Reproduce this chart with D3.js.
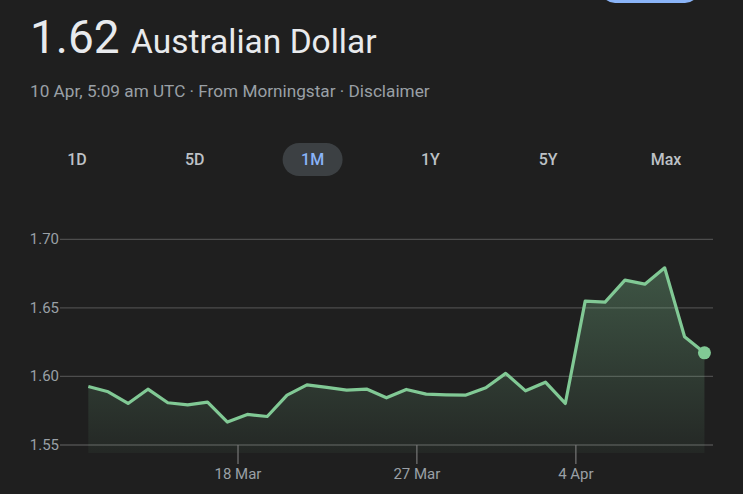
<!DOCTYPE html>
<html>
<head>
<meta charset="utf-8">
<script src="https://cdn.jsdelivr.net/npm/d3@7"></script>
<style>
  html, body { margin: 0; padding: 0; background: #1f1f1f; }
  #chart { width: 743px; height: 494px; }
  text { font-family: Roboto, "Noto Sans", sans-serif; }
</style>
</head>
<body>
<div id="chart"></div>
<script>
// ---------- Data ----------
const startDate = new Date(2025, 2, 10, 11, 15);
const rates = [
  1.5927, 1.5888, 1.5803, 1.5907, 1.5808, 1.5793, 1.5813, 1.5667,
  1.5723, 1.5708, 1.5864, 1.5939, 1.5920, 1.5900, 1.5908, 1.5844,
  1.5905, 1.5871, 1.5866, 1.5864, 1.5917, 1.6022, 1.5895, 1.5958,
  1.5803, 1.6549, 1.6542, 1.6702, 1.6673, 1.6792, 1.6289, 1.6172
];
const yTickValues = [1.55, 1.60, 1.65, 1.70];
const xTickDates = ["2025-03-18", "2025-03-27", "2025-04-04"];
const ranges = ["1D", "5D", "1M", "1Y", "5Y", "Max"];
const activeRange = "1M";

const points = rates.map((v, i) => ({ date: d3.timeDay.offset(startDate, i), value: v }));

// ---------- Layout ----------
const width = 743, height = 494;
const plot = { left: 79, right: 715, top: 239.3, bottom: 445, gridLeft: 60, gridRight: 713 };

const svg = d3.select("#chart").append("svg")
  .attr("width", width)
  .attr("height", height);

svg.append("rect").attr("width", width).attr("height", height).attr("fill", "#1f1f1f");

// top-right button edge, cut off by the page top
svg.append("rect")
  .attr("x", 601).attr("y", -30)
  .attr("width", 98).attr("height", 33)
  .attr("rx", 14)
  .attr("fill", "#8ab4f8");

// ---------- Header ----------
svg.append("text")
  .attr("x", 30).attr("y", 53)
  .attr("font-size", 46)
  .attr("fill", "#e8eaed")
  .text("1.62");

svg.append("text")
  .attr("x", 131).attr("y", 53)
  .attr("font-size", 33.5)
  .attr("fill", "#e8eaed")
  .text("Australian Dollar");

svg.append("text")
  .attr("x", 30).attr("y", 97)
  .attr("font-size", 17.2)
  .attr("fill", "#9aa0a6")
  .text("10 Apr, 5:09 am UTC · From Morningstar · Disclaimer");

// ---------- Range tabs ----------
const tabX = d3.scalePoint().domain(ranges).range([77, 666]);

svg.append("rect")
  .attr("x", tabX(activeRange) - 30).attr("y", 143)
  .attr("width", 60).attr("height", 33)
  .attr("rx", 16.5)
  .attr("fill", "#3c4043");

svg.selectAll(".tab")
  .data(ranges)
  .enter()
  .append("text")
  .attr("class", "tab")
  .attr("x", d => tabX(d))
  .attr("y", 165)
  .attr("text-anchor", "middle")
  .attr("font-size", 16)
  .attr("font-weight", 500)
  .attr("fill", d => d === activeRange ? "#8ab4f8" : "#bdc1c6")
  .text(d => d);

// ---------- Scales ----------
const xScale = d3.scaleTime()
  .domain([new Date(2025, 2, 10), new Date(2025, 3, 11)])
  .range([plot.left, plot.right]);

const yScale = d3.scaleLinear()
  .domain([1.55, 1.70])
  .range([plot.bottom, plot.top]);

// ---------- Grid ----------
svg.selectAll(".grid")
  .data(yTickValues)
  .enter()
  .append("line")
  .attr("class", "grid")
  .attr("x1", plot.gridLeft).attr("x2", plot.gridRight)
  .attr("y1", d => yScale(d)).attr("y2", d => yScale(d))
  .attr("stroke", d => d === 1.55 ? "#666" : "#4d4d4d")
  .attr("stroke-width", 1.2);

svg.selectAll(".ylabel")
  .data(yTickValues)
  .enter()
  .append("text")
  .attr("class", "ylabel")
  .attr("x", 59)
  .attr("y", d => yScale(d) + 5)
  .attr("text-anchor", "end")
  .attr("font-size", 15)
  .attr("fill", "#9aa0a6")
  .text(d => d.toFixed(2));

// ---------- Area + line ----------
const defs = svg.append("defs");
const grad = defs.append("linearGradient")
  .attr("id", "fillGrad")
  .attr("x1", 0).attr("x2", 0).attr("y1", 0).attr("y2", 1);
grad.append("stop").attr("offset", "0%").attr("stop-color", "#81c995").attr("stop-opacity", 0.32);
grad.append("stop").attr("offset", "100%").attr("stop-color", "#81c995").attr("stop-opacity", 0.05);

const areaBase = yScale(1.55) + 8;

svg.append("path")
  .datum(points)
  .attr("fill", "url(#fillGrad)")
  .attr("d", d3.area()
    .x(d => xScale(d.date))
    .y0(areaBase)
    .y1(d => yScale(d.value)));

svg.append("path")
  .datum(points)
  .attr("fill", "none")
  .attr("stroke", "#81c995")
  .attr("stroke-width", 3.2)
  .attr("stroke-linejoin", "round")
  .attr("d", d3.line()
    .x(d => xScale(d.date))
    .y(d => yScale(d.value)));

const last = points[points.length - 1];
svg.append("circle")
  .attr("cx", xScale(last.date))
  .attr("cy", yScale(last.value))
  .attr("r", 6.5)
  .attr("fill", "#81c995");

// ---------- X axis ticks ----------
const parseDay = d3.timeParse("%Y-%m-%d");
const formatDay = d3.timeFormat("%-d %b");
const xTicks = xTickDates.map(parseDay);

svg.selectAll(".xtick")
  .data(xTicks)
  .enter()
  .append("line")
  .attr("class", "xtick")
  .attr("x1", d => xScale(d)).attr("x2", d => xScale(d))
  .attr("y1", yScale(1.55)).attr("y2", yScale(1.55) + 19)
  .attr("stroke", "#777")
  .attr("stroke-width", 1.2);

svg.selectAll(".xlabel")
  .data(xTicks)
  .enter()
  .append("text")
  .attr("class", "xlabel")
  .attr("x", d => xScale(d))
  .attr("y", 479)
  .attr("text-anchor", "middle")
  .attr("font-size", 15)
  .attr("fill", "#9aa0a6")
  .text(d => formatDay(d));
</script>
</body>
</html>
